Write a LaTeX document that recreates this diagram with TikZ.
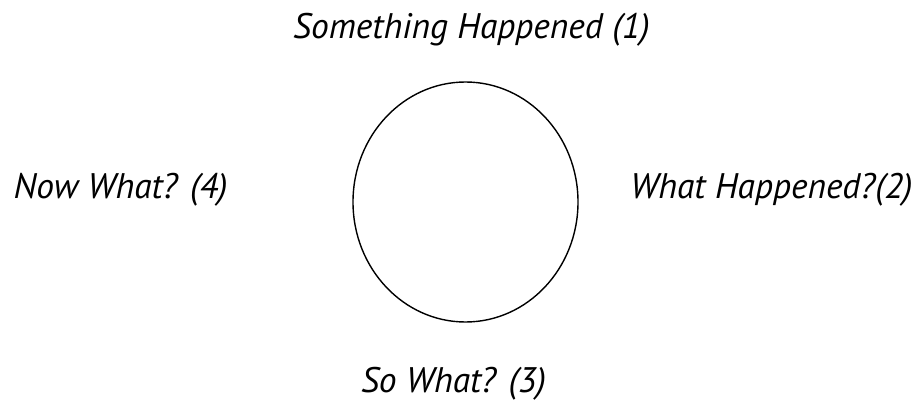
\documentclass[tikz,border=0pt]{standalone}
\usepackage{fontspec}
\setmainfont{PT Sans}
\usetikzlibrary{shapes.geometric}
\begin{document}
\begin{tikzpicture}[x=1pt,y=-1pt,
  lbl/.style={inner sep=0pt, anchor=base, font=\fontsize{35.5}{38}\selectfont\itshape},
  ring/.style={ellipse, draw=black, line width=1.4pt, minimum width=225pt, minimum height=240pt, inner sep=0pt}]
\useasboundingbox (0,0) rectangle (920,401);
\node[ring] (c) at (465.5,202) {};
\node[lbl] (t1) at (471.5,39) {Something Happened (1)};
\node[lbl] (t2) at (771.5,198) {What Happened?(2)};
\node[lbl] (t3) at (453.5,392) {So What? (3)};
\node[lbl] (t4) at (120.5,198) {Now What? (4)};
\end{tikzpicture}
\end{document}
